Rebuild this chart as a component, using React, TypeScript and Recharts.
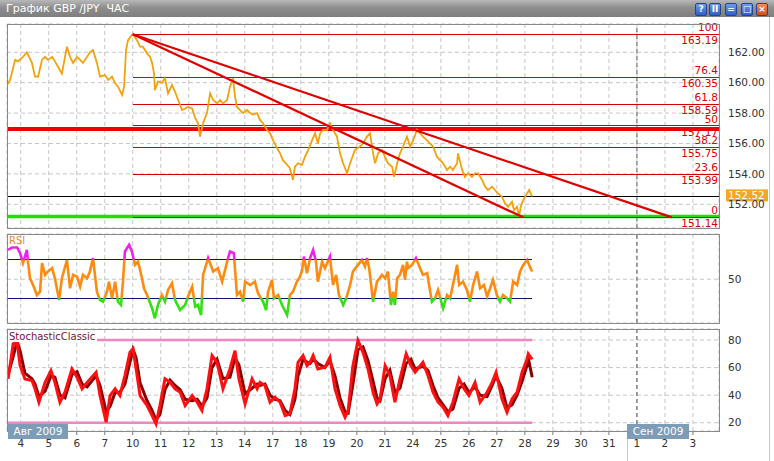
import React from 'react';
import { LineChart, Line, XAxis, YAxis, CartesianGrid, ReferenceLine } from 'recharts';

const FONT = '"DejaVu Sans", Verdana, sans-serif';
const X_MIN = -0.49;
const X_MAX = 24.93;

const dayLabels = ['4','5','6','7','10','11','12','13','14','17','18','19','20','21','24','25','26','27','28','29','30','31','1','2','3'];
const dayTicks = dayLabels.map((_, i) => i);
const monthStartTick = 22;

const priceTicks = [152, 154, 156, 158, 160, 162];
const rsiTicks = [50];
const stochTicks = [20, 40, 60, 80];

const priceTimes = [
  -0.49,-0.38,-0.20,-0.10,0.08,0.22,0.30,0.40,0.51,0.62,
  0.76,0.87,0.97,1.12,1.22,1.33,1.47,1.58,1.65,1.76,
  1.87,2.01,2.12,2.22,2.37,2.47,2.58,2.72,2.83,3.01,
  3.12,3.26,3.37,3.47,3.62,3.69,3.76,3.83,3.97,4.00,
  4.15,4.26,4.36,4.51,4.62,4.69,4.76,4.79,4.90,5.04,
  5.15,5.26,5.40,5.51,5.62,5.76,5.87,5.97,6.12,6.23,
  6.33,6.40,6.51,6.65,6.76,6.87,7.01,7.12,7.22,7.37,
  7.47,7.58,7.65,7.72,7.83,7.94,8.08,8.19,8.29,8.44,
  8.54,8.65,8.79,8.90,9.01,9.15,9.26,9.36,9.51,9.61,
  9.72,9.79,9.90,10.04,10.15,10.26,10.40,10.51,10.61,10.69,
  10.79,10.94,11.04,11.15,11.29,11.40,11.51,11.65,11.76,11.93,
  12.11,12.22,12.36,12.47,12.58,12.65,12.76,12.90,13.01,13.11,
  13.26,13.33,13.44,13.54,13.65,13.79,13.90,14.01,14.15,14.26,
  14.36,14.51,14.61,14.72,14.86,14.97,15.08,15.22,15.33,15.43,
  15.58,15.61,15.76,15.86,15.97,16.11,16.22,16.33,16.47,16.58,
  16.68,16.83,16.93,17.04,17.18,17.29,17.40,17.54,17.61,17.72,
  17.79,17.86,17.94,18.08,18.15,18.26,
];
const priceValues = [
  159.85,160.18,161.5,161.4,161.7,162.0,161.7,161.3,160.4,160.4,
  161.5,161.7,161.5,161.7,161.4,161.05,160.6,161.7,162.37,161.7,
  161.3,161.7,161.5,161.3,161.7,162.0,162.15,161.3,160.4,160.5,
  160.18,160.4,159.96,159.74,159.2,159.74,162.15,162.8,163.14,163.19,
  162.8,162.37,162.37,161.93,161.7,161.3,160.6,159.5,160.07,160.0,
  160.3,159.3,159.85,159.4,158.86,158.2,158.3,158.4,158.3,157.66,
  157.33,156.45,157.33,158.0,159.3,158.86,158.64,158.86,158.64,158.86,
  159.74,160.3,159.1,158.4,158.2,158.0,158.2,158.0,157.9,158.0,
  157.55,157.33,156.9,156.67,156.2,155.7,155.35,154.9,154.6,154.37,
  153.6,154.47,154.7,154.6,155.13,155.57,156.2,156.67,156.0,156.67,
  156.9,156.9,157.33,156.9,156.45,155.35,154.7,154.04,154.7,155.57,
  155.8,156.0,156.45,156.67,155.35,154.7,155.35,155.57,155.1,154.7,
  154.47,153.8,154.7,155.35,155.8,156.45,155.8,156.2,156.9,156.67,
  156.45,156.2,156.0,155.8,155.13,154.9,154.7,154.26,154.47,154.26,
  154.7,155.35,154.26,153.8,154.04,153.8,154.04,154.04,153.6,153.16,
  152.94,153.16,152.94,152.72,152.5,152.07,151.84,152.17,151.6,151.84,
  151.2,151.9,152.28,152.72,152.94,152.52,
];

const fibLevels = ['100', '76.4', '61.8', '50', '38.2', '23.6', '0'];
const fibPrices = [163.19, 160.35, 158.59, 157.17, 155.75, 153.99, 151.14];
const fibStartTime = 4.0;
const trendEndTimes = [17.94, 23.25];
const supportLevel = 156.95;
const greenLevel = 151.2;
const lastPrice = 152.52;

const rsiTimes = [
  -0.45,-0.31,-0.13,-0.02,0.08,0.22,0.26,0.33,0.44,0.58,
  0.69,0.76,0.87,0.97,1.12,1.22,1.37,1.47,1.65,1.76,
  1.87,2.01,2.12,2.22,2.37,2.47,2.58,2.72,2.83,2.94,
  3.08,3.15,3.26,3.37,3.47,3.58,3.65,3.72,3.87,3.97,
  4.08,4.19,4.33,4.40,4.51,4.69,4.79,4.90,5.04,5.15,
  5.26,5.40,5.51,5.69,5.87,5.97,6.12,6.23,6.33,6.44,
  6.51,6.69,6.87,7.04,7.19,7.37,7.47,7.61,7.72,7.83,
  7.94,8.01,8.19,8.36,8.47,8.65,8.76,8.83,8.97,9.04,
  9.19,9.33,9.51,9.61,9.72,9.86,9.94,10.04,10.11,10.22,
  10.33,10.44,10.54,10.61,10.76,10.86,11.04,11.15,11.26,11.36,
  11.51,11.62,11.76,11.86,12.04,12.18,12.29,12.36,12.44,12.58,
  12.72,12.90,13.01,13.11,13.22,13.29,13.36,13.44,13.54,13.65,
  13.72,13.79,13.83,13.97,14.11,14.26,14.36,14.51,14.58,14.68,
  14.79,14.90,15.08,15.22,15.33,15.43,15.58,15.65,15.79,15.93,
  16.04,16.15,16.29,16.40,16.54,16.65,16.76,16.86,17.00,17.11,
  17.22,17.36,17.47,17.58,17.72,17.83,17.94,18.08,18.20,18.26,
];
const rsiValues = [
  80.5,83,83,77,66.7,80.5,68,51,44,33.6,
  37,66.7,54.5,58,61.5,51,28.4,51,70,40.6,
  54.5,52.7,42.3,54.5,51,58,71.9,37,28.4,26.7,
  37,47.5,30.2,47.5,26.7,23.2,47.5,78.8,85.7,78.8,
  64.9,68.3,51,40.6,33.6,19.8,9.4,23.2,33.6,26.7,
  38.9,45.8,28.4,18,23.2,31.9,42.3,21.5,23.2,12.8,
  54.5,71.9,58,61.5,47.5,68.3,78.8,77,33.6,37,
  26.7,47.5,44,47.5,35.4,26.7,18,37,49.3,30.2,
  33.6,23.2,12.8,33.6,37,47.5,51,58,73.5,56.3,
  71.9,80.5,68.3,47.5,68.3,61.5,73.5,44,54.5,33.6,
  23.2,30.2,44,58,64.9,70,63.1,71.9,61.5,26.7,
  47.5,54.5,51,58,23.2,37,23.2,51,54.5,64.9,
  49.3,68.3,61.5,64.9,71.9,61.5,54.5,56.3,44,26.7,
  30.2,38.9,19.8,33.6,30.2,44,64.9,44,47.5,38.9,
  26.7,44,58,40.6,44,31.9,40.6,49.3,33.6,26.7,
  33.6,30.2,26.7,47.5,44,58,64.9,70,61.5,58,
];
const rsiUpper = 70;
const rsiLower = 30;

const stochTimes = [
  -0.45,-0.27,-0.13,-0.02,0.15,0.40,0.51,0.65,0.87,1.08,
  1.22,1.40,1.58,1.83,2.01,2.19,2.37,2.69,2.83,3.05,
  3.19,3.37,3.54,3.72,3.90,4.01,4.12,4.26,4.51,4.69,
  4.83,4.97,5.15,5.33,5.51,5.69,5.87,6.12,6.30,6.47,
  6.65,6.83,7.01,7.22,7.47,7.65,7.79,8.01,8.26,8.44,
  8.54,8.72,8.90,9.08,9.26,9.44,9.61,9.79,9.90,10.08,
  10.22,10.33,10.44,10.61,10.86,11.04,11.22,11.40,11.58,11.69,
  11.86,12.04,12.22,12.40,12.58,12.72,12.83,13.01,13.18,13.36,
  13.54,13.76,13.93,14.08,14.36,14.54,14.72,14.90,15.08,15.25,
  15.43,15.65,15.83,16.00,16.22,16.40,16.65,16.83,16.97,17.18,
  17.36,17.54,17.72,17.90,18.08,18.12,18.26,
];
const stochMain = [
  51.8,77.2,78.4,61.4,51.8,50.6,44.6,34.9,49.3,57.8,
  49.3,34.9,42.1,59,53,44.6,49.3,56.6,39.7,20.4,
  39.7,44.6,39.7,54.2,71.1,73.6,59,39.7,32.5,25.2,
  19.2,32.5,51.8,49.3,44.6,42.1,32.5,39.7,34.9,28.9,
  44.6,68.7,63.8,44.6,59,72.3,51.8,33.7,51.8,44.6,
  49.3,47,34.9,38.5,34.9,25.2,26.4,44.6,63.8,68.7,
  61.4,63.8,68.7,59,60.2,67.5,44.6,32.5,24,28.9,
  61.4,79.6,71.1,59,42.1,33.7,37.3,61.4,54.2,34.9,
  51.8,69.9,61.4,56.6,63.8,54.2,42.1,34.9,31.3,25.2,
  34.9,51.8,44.6,39.7,49.3,34.9,42.1,49.3,56.6,37.3,
  27.6,37.3,42.1,56.6,66.3,70,66,
];
const stochSignal = [
  55,68,79,72,56,52,48,39,43,54,
  53,40,38,55,57,48,46,54,47,28,
  32,42,42,48,64,73,67,49,36,29,
  22,26,44,51,47,44,37,36,37,32,
  38,60,66,52,53,67,62,41,45,48,
  47,48,40,37,36,29,26,37,54,66,
  64,63,66,63,60,65,54,38,28,27,
  48,73,75,65,50,38,36,52,58,42,
  45,63,66,59,61,58,47,38,33,28,
  30,45,48,42,46,40,39,47,54,45,
  31,33,40,50,62,67,53,
];
const stochUpper = 80;
const stochLower = 20;

const priceData = priceTimes.map((t, i) => ({ t, v: priceValues[i] }));
const rsiData = rsiTimes.map((t, i) => ({ t, v: rsiValues[i] }));
const stochData = stochTimes.map((t, i) => ({ t, k: stochMain[i], d: stochSignal[i] }));
const lastTime = priceTimes[priceTimes.length - 1];

const rsiMax = Math.max(...rsiValues);
const rsiMin = Math.min(...rsiValues);
const offUp = (rsiMax - rsiUpper) / (rsiMax - rsiMin);
const offLo = (rsiMax - rsiLower) / (rsiMax - rsiMin);

const FIB_RED = '#d40000';
const TICK_STYLE = { fill: '#333', fontSize: 10.5, fontFamily: FONT };
const GRID = '#c6c6c6';

function fibLabel(level: string, price: number) {
  return (props: any) => {
    const vb = props.viewBox || {};
    const xr = (vb.x ?? 0) + (vb.width ?? 0) - 1;
    const y = vb.y ?? 0;
    return (
      <g>
        <text x={xr} y={y - 3} textAnchor="end" fill={FIB_RED} fontSize={10.5} fontFamily={FONT}>{level}</text>
        <text x={xr} y={y + 10} textAnchor="end" fill={FIB_RED} fontSize={10.5} fontFamily={FONT}>{price.toFixed(2)}</text>
      </g>
    );
  };
}

function priceTag(props: any) {
  const vb = props.viewBox || {};
  const x = (vb.x ?? 0) + (vb.width ?? 0) + 7;
  const y = vb.y ?? 0;
  return (
    <g>
      <rect x={x} y={y - 7} width={42} height={12} fill="#f5a623" />
      <text x={x + 2} y={y + 3} fill="#fff" fontSize={10.5} fontFamily={FONT}>{lastPrice.toFixed(2)}</text>
    </g>
  );
}

const abs = (l: number, t: number): React.CSSProperties => ({ position: 'absolute', left: l, top: t });

function Btn({ x, bg, glyph }: { x: number; bg: string; glyph: string }) {
  return (
    <div style={{ ...abs(x, 3), width: 12, height: 13, borderRadius: 2, background: bg, border: '1px solid #24448c', boxSizing: 'border-box', color: '#fff', fontSize: 9, fontWeight: 'bold', lineHeight: '11px', textAlign: 'center', fontFamily: FONT }}>{glyph}</div>
  );
}

export default function App() {
  return (
    <div style={{ position: 'absolute', left: 0, top: 0, width: 774, height: 461, background: '#fff', overflow: 'hidden', fontFamily: FONT }}>
      <div style={{ ...abs(0, 0), width: 774, height: 17, background: 'linear-gradient(to bottom, #b8b8b8, #8e8e8e 45%, #7e7e7e)' }} />
      <div style={{ ...abs(6, 2), color: '#fff', fontSize: 11, lineHeight: '13px', whiteSpace: 'pre' }}>{'График GBP /JPY  ЧАС'}</div>
      <Btn x={695} bg="linear-gradient(#6f9be8,#2f5fc8)" glyph="?" />
      <Btn x={709} bg="linear-gradient(#6f9be8,#2f5fc8)" glyph="II" />
      <Btn x={725} bg="linear-gradient(#6f9be8,#2f5fc8)" glyph="=" />
      <Btn x={741} bg="linear-gradient(#6f9be8,#2f5fc8)" glyph="□" />
      <Btn x={756} bg="linear-gradient(#f09060,#d04a20)" glyph="×" />

      <div style={abs(0, 0)}>
        <LineChart width={774} height={461} data={priceData} margin={{ top: 24, right: 0, bottom: 233, left: 7 }}>
          <CartesianGrid stroke={GRID} strokeDasharray="4 3" />
          <XAxis type="number" dataKey="t" domain={[X_MIN, X_MAX]} ticks={dayTicks} hide allowDataOverflow />
          <YAxis orientation="right" width={55} domain={[150.44, 163.86]} ticks={priceTicks} tickFormatter={(v: number) => v.toFixed(2)} axisLine={false} tickLine={false} tickSize={0} tickMargin={9} tick={TICK_STYLE} allowDataOverflow />
          <ReferenceLine x={monthStartTick} stroke="#555" strokeDasharray="4 3" />
          <ReferenceLine y={greenLevel} stroke="#22dd00" strokeWidth={3.5} />
          <ReferenceLine y={lastPrice} stroke="#000" strokeWidth={1} shapeRendering="crispEdges" label={priceTag} />
          {fibPrices.map((p, i) => (
            <ReferenceLine key={'f' + i} segment={[{ x: fibStartTime, y: p }, { x: X_MAX, y: p }]} stroke={FIB_RED} strokeWidth={1} shapeRendering="crispEdges" label={fibLabel(fibLevels[i], p)} />
          ))}
          <ReferenceLine y={supportLevel} stroke="#ee0000" strokeWidth={4} />
          <Line type="linear" dataKey="v" stroke="#f4a20a" strokeWidth={1.8} dot={false} activeDot={false} isAnimationActive={false} />
          {trendEndTimes.map((te, i) => (
            <ReferenceLine key={'t' + i} segment={[{ x: fibStartTime, y: fibPrices[0] }, { x: te, y: fibPrices[fibPrices.length - 1] }]} stroke="#e00000" strokeWidth={2.2} />
          ))}
        </LineChart>
      </div>

      <div style={abs(0, 0)}>
        <LineChart width={774} height={461} data={rsiData} margin={{ top: 234, right: 0, bottom: 138, left: 7 }}>
          <defs>
            <linearGradient id="rsiGrad" x1="0" y1="0" x2="0" y2="1">
              <stop offset={0} stopColor="#ee22ee" />
              <stop offset={offUp} stopColor="#ee22ee" />
              <stop offset={offUp} stopColor="#ff8a10" />
              <stop offset={offLo} stopColor="#ff8a10" />
              <stop offset={offLo} stopColor="#33e011" />
              <stop offset={1} stopColor="#33e011" />
            </linearGradient>
          </defs>
          <CartesianGrid stroke={GRID} strokeDasharray="4 3" />
          <XAxis type="number" dataKey="t" domain={[X_MIN, X_MAX]} ticks={dayTicks} hide allowDataOverflow />
          <YAxis orientation="right" width={55} domain={[4.5, 97]} ticks={rsiTicks} axisLine={false} tickLine={false} tickSize={0} tickMargin={9} tick={TICK_STYLE} allowDataOverflow />
          <ReferenceLine x={monthStartTick} stroke="#555" strokeDasharray="4 3" />
          <ReferenceLine segment={[{ x: X_MIN, y: rsiUpper }, { x: lastTime, y: rsiUpper }]} stroke="#10107a" strokeWidth={1} shapeRendering="crispEdges" />
          <ReferenceLine segment={[{ x: X_MIN, y: rsiLower }, { x: lastTime, y: rsiLower }]} stroke="#10107a" strokeWidth={1} shapeRendering="crispEdges" />
          <Line type="linear" dataKey="v" stroke="url(#rsiGrad)" strokeWidth={2.6} dot={false} activeDot={false} isAnimationActive={false} />
        </LineChart>
      </div>

      <div style={abs(0, 0)}>
        <LineChart width={774} height={461} data={stochData} margin={{ top: 329, right: 0, bottom: 0, left: 7 }}>
          <CartesianGrid stroke={GRID} strokeDasharray="4 3" />
          <XAxis type="number" dataKey="t" domain={[X_MIN, X_MAX]} ticks={dayTicks} interval={0} tickFormatter={(v: number) => dayLabels[v]} height={30} axisLine={false} tickLine={{ stroke: '#777' }} tickSize={4} tickMargin={5} tick={TICK_STYLE} allowDataOverflow />
          <YAxis orientation="right" width={55} domain={[14, 88]} ticks={stochTicks} axisLine={false} tickLine={false} tickSize={0} tickMargin={9} tick={TICK_STYLE} allowDataOverflow />
          <ReferenceLine x={monthStartTick} stroke="#555" strokeDasharray="4 3" />
          <ReferenceLine segment={[{ x: X_MIN, y: stochUpper }, { x: lastTime, y: stochUpper }]} stroke="#ef86bf" strokeWidth={2.5} />
          <ReferenceLine segment={[{ x: X_MIN, y: stochLower }, { x: lastTime, y: stochLower }]} stroke="#ef86bf" strokeWidth={2.5} />
          <Line type="linear" dataKey="d" stroke="#8a0000" strokeWidth={3} dot={false} activeDot={false} isAnimationActive={false} />
          <Line type="linear" dataKey="k" stroke="#ff1010" strokeWidth={3} dot={false} activeDot={false} isAnimationActive={false} />
        </LineChart>
      </div>

      <div style={{ ...abs(7, 24), width: 713, height: 205, border: '1px solid #8a8a8a', boxSizing: 'border-box', pointerEvents: 'none' }} />
      <div style={{ ...abs(7, 234), width: 713, height: 90, border: '1px solid #8a8a8a', boxSizing: 'border-box', pointerEvents: 'none' }} />
      <div style={{ ...abs(7, 329), width: 713, height: 103, border: '1px solid #8a8a8a', boxSizing: 'border-box', pointerEvents: 'none' }} />

      <div style={{ ...abs(9, 235), color: '#e88a2a', fontSize: 10, lineHeight: '12px' }}>RSI</div>
      <div style={{ ...abs(8, 331), color: '#7a1038', fontSize: 10, lineHeight: '11px', background: '#fff', paddingLeft: 1, paddingRight: 2 }}>StochasticClassic</div>

      <div style={{ ...abs(8, 424), width: 60, height: 15, background: '#7d9cb8', color: '#fff', fontSize: 10.5, lineHeight: '15px', textAlign: 'center' }}>Авг 2009</div>
      <div style={{ ...abs(627, 424), width: 62, height: 15, background: '#7d9cb8', color: '#fff', fontSize: 10.5, lineHeight: '15px', textAlign: 'center' }}>Сен 2009</div>
      <div style={{ ...abs(627, 439), width: 1, height: 22, background: '#c8c8c8' }} />
      <div style={{ ...abs(769, 17), width: 1, height: 444, background: '#c8c8c8' }} />
    </div>
  );
}
